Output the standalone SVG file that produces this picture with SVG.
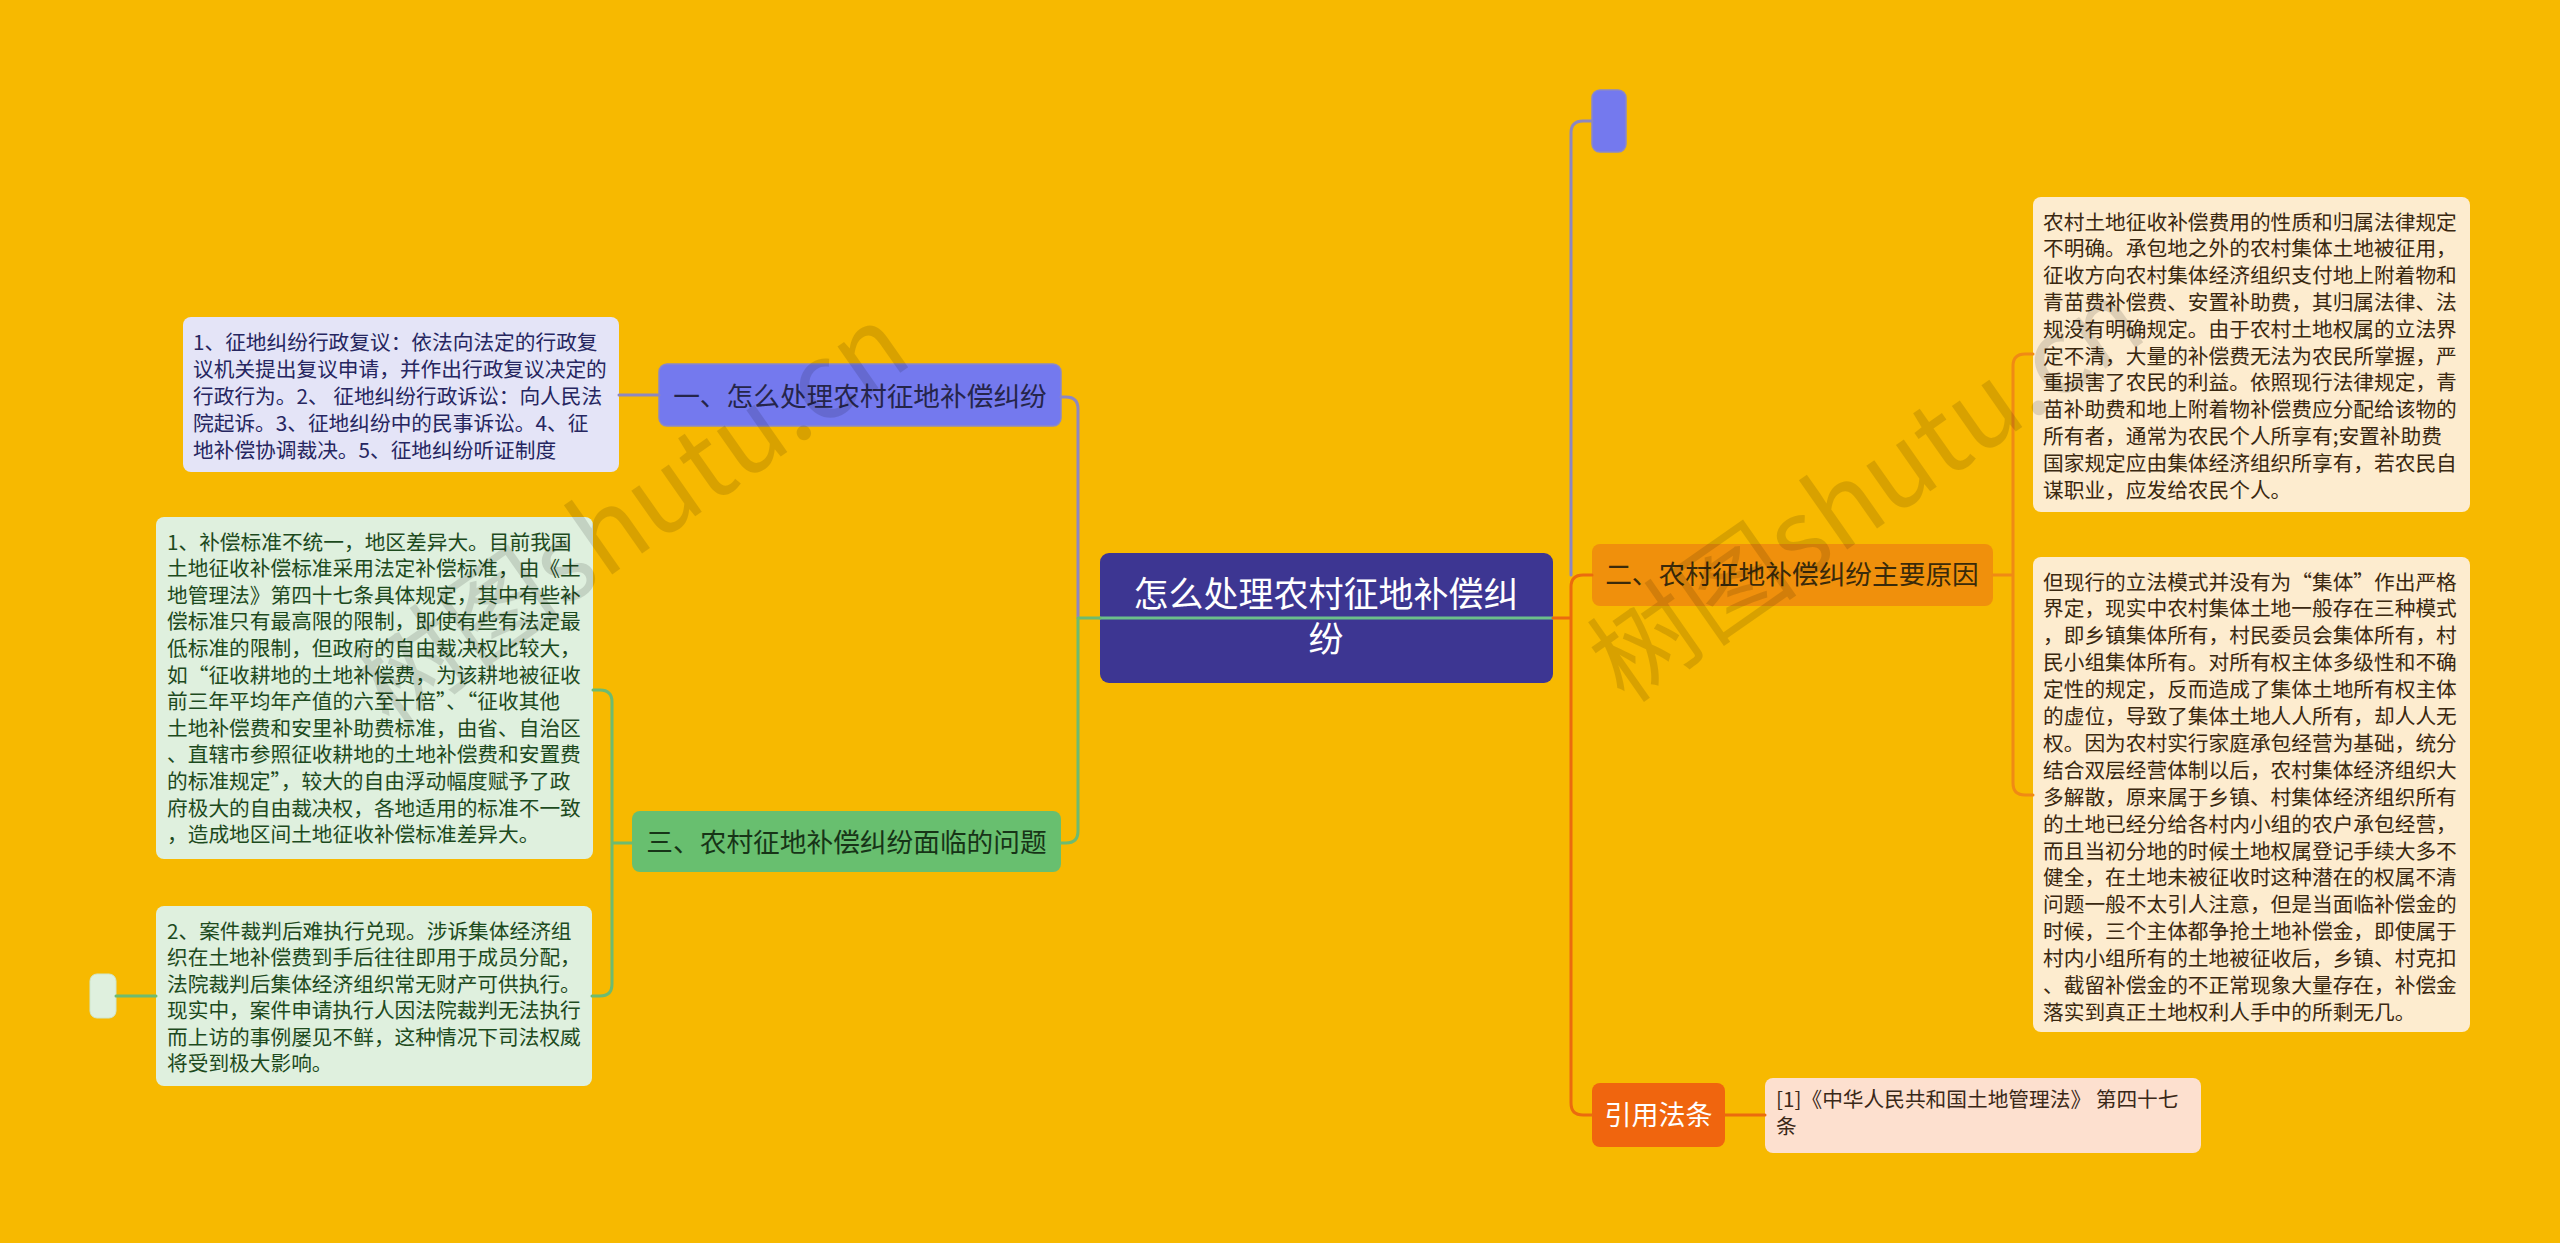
<svg xmlns="http://www.w3.org/2000/svg" width="2560" height="1243" viewBox="0 0 2560 1243">
<style>
text{font-family:"Noto Sans CJK SC","Noto Sans",sans-serif;}
.leaf{font-size:20.7px;}
.main{font-size:26.7px;}
.c{fill:none;stroke-width:3;stroke-linecap:round;stroke-linejoin:round;}
.pur{stroke:#8d87c0;}
.grn{stroke:#6dbb70;}
.org{stroke:#eb6b0e;}
.org2{stroke:#f08a14;}
.wm{font-size:106px;fill:#000;opacity:0.12;}
</style>
<rect x="0" y="0" width="2560" height="1243" fill="#f7b900"/>

<g id="center">
<rect x="1100" y="553" width="453" height="130" rx="9" fill="#3d3692"/>
<text x="1326" y="607" font-size="35" fill="#ffffff" text-anchor="middle">怎么处理农村征地补偿纠</text>
<text x="1326" y="652" font-size="35" fill="#ffffff" text-anchor="middle">纷</text>
</g>

<g id="n1">
<rect x="659" y="364" width="402" height="62" rx="8" fill="#7479ee" stroke="#8a88c8" stroke-width="1.5"/>
<text class="main" x="860" y="406" fill="#25254a" text-anchor="middle">一、怎么处理农村征地补偿纠纷</text>
</g>
<g id="n1a">
<rect x="183" y="317" width="436" height="155" rx="8" fill="#e4e4f7"/>
<text class="leaf" fill="#262660">
<tspan x="193" y="349.5">1、征地纠纷行政复议：依法向法定的行政复</tspan>
<tspan x="193" y="376.5">议机关提出复议申请，并作出行政复议决定的</tspan>
<tspan x="193" y="403.5">行政行为。2、 征地纠纷行政诉讼：向人民法</tspan>
<tspan x="193" y="430.5">院起诉。3、征地纠纷中的民事诉讼。4、征</tspan>
<tspan x="193" y="457.5">地补偿协调裁决。5、征地纠纷听证制度</tspan>
</text>
</g>

<g id="n3">
<rect x="632" y="811" width="429" height="61" rx="8" fill="#68bf6f"/>
<text class="main" x="846.5" y="852" fill="#173417" text-anchor="middle">三、农村征地补偿纠纷面临的问题</text>
</g>
<g id="n3a">
<rect x="156" y="517" width="437" height="342" rx="8" fill="#dff0de"/>
<text class="leaf" fill="#1d4a1d">
<tspan x="167" y="549.5">1、补偿标准不统一，地区差异大。目前我国</tspan>
<tspan x="167" y="576.1">土地征收补偿标准采用法定补偿标准，由《土</tspan>
<tspan x="167" y="602.7">地管理法》第四十七条具体规定，其中有些补</tspan>
<tspan x="167" y="629.3">偿标准只有最高限的限制，即使有些有法定最</tspan>
<tspan x="167" y="655.9">低标准的限制，但政府的自由裁决权比较大，</tspan>
<tspan x="167" y="682.5">如“征收耕地的土地补偿费，为该耕地被征收</tspan>
<tspan x="167" y="709.1">前三年平均年产值的六至十倍”、“征收其他</tspan>
<tspan x="167" y="735.7">土地补偿费和安里补助费标准，由省、自治区</tspan>
<tspan x="167" y="762.3">、直辖市参照征收耕地的土地补偿费和安置费</tspan>
<tspan x="167" y="788.9">的标准规定”，较大的自由浮动幅度赋予了政</tspan>
<tspan x="167" y="815.5">府极大的自由裁决权，各地适用的标准不一致</tspan>
<tspan x="167" y="842.1">，造成地区间土地征收补偿标准差异大。</tspan>
</text>
</g>
<g id="n3b">
<rect x="156" y="906" width="436" height="180" rx="8" fill="#dff0de"/>
<text class="leaf" fill="#1d4a1d">
<tspan x="167" y="938.5">2、案件裁判后难执行兑现。涉诉集体经济组</tspan>
<tspan x="167" y="965">织在土地补偿费到手后往往即用于成员分配，</tspan>
<tspan x="167" y="991.5">法院裁判后集体经济组织常无财产可供执行。</tspan>
<tspan x="167" y="1018">现实中，案件申请执行人因法院裁判无法执行</tspan>
<tspan x="167" y="1044.5">而上访的事例屡见不鲜，这种情况下司法权威</tspan>
<tspan x="167" y="1071">将受到极大影响。</tspan>
</text>
</g>
<g id="n3b1">
<rect x="90" y="974" width="26" height="44" rx="7" fill="#dff0de" stroke="#cfe6cc" stroke-width="1"/>
</g>

<g id="n0">
<rect x="1592" y="90" width="34" height="62" rx="8" fill="#7479ee" stroke="#8a88c8" stroke-width="1.5"/>
</g>

<g id="n2">
<rect x="1592" y="544" width="401" height="62" rx="8" fill="#f0900c"/>
<text class="main" x="1792" y="584" fill="#3a2a0a" text-anchor="middle">二、农村征地补偿纠纷主要原因</text>
</g>
<g id="n2a">
<rect x="2033" y="197" width="437" height="315" rx="8" fill="#fdeccf"/>
<text class="leaf" fill="#3a2810">
<tspan x="2043" y="229.5">农村土地征收补偿费用的性质和归属法律规定</tspan>
<tspan x="2043" y="256.3">不明确。承包地之外的农村集体土地被征用，</tspan>
<tspan x="2043" y="283.1">征收方向农村集体经济组织支付地上附着物和</tspan>
<tspan x="2043" y="309.9">青苗费补偿费、安置补助费，其归属法律、法</tspan>
<tspan x="2043" y="336.7">规没有明确规定。由于农村土地权属的立法界</tspan>
<tspan x="2043" y="363.5">定不清，大量的补偿费无法为农民所掌握，严</tspan>
<tspan x="2043" y="390.3">重损害了农民的利益。依照现行法律规定，青</tspan>
<tspan x="2043" y="417.1">苗补助费和地上附着物补偿费应分配给该物的</tspan>
<tspan x="2043" y="443.9">所有者，通常为农民个人所享有;安置补助费</tspan>
<tspan x="2043" y="470.7">国家规定应由集体经济组织所享有，若农民自</tspan>
<tspan x="2043" y="497.5">谋职业，应发给农民个人。</tspan>
</text>
</g>
<g id="n2b">
<rect x="2033" y="557" width="437" height="475" rx="8" fill="#fdeccf"/>
<text class="leaf" fill="#3a2810">
<tspan x="2043" y="589.5">但现行的立法模式并没有为“集体”作出严格</tspan>
<tspan x="2043" y="616.4">界定，现实中农村集体土地一般存在三种模式</tspan>
<tspan x="2043" y="643.3">，即乡镇集体所有，村民委员会集体所有，村</tspan>
<tspan x="2043" y="670.2">民小组集体所有。对所有权主体多级性和不确</tspan>
<tspan x="2043" y="697.1">定性的规定，反而造成了集体土地所有权主体</tspan>
<tspan x="2043" y="724">的虚位，导致了集体土地人人所有，却人人无</tspan>
<tspan x="2043" y="750.9">权。因为农村实行家庭承包经营为基础，统分</tspan>
<tspan x="2043" y="777.8">结合双层经营体制以后，农村集体经济组织大</tspan>
<tspan x="2043" y="804.7">多解散，原来属于乡镇、村集体经济组织所有</tspan>
<tspan x="2043" y="831.6">的土地已经分给各村内小组的农户承包经营，</tspan>
<tspan x="2043" y="858.5">而且当初分地的时候土地权属登记手续大多不</tspan>
<tspan x="2043" y="885.4">健全，在土地未被征收时这种潜在的权属不清</tspan>
<tspan x="2043" y="912.3">问题一般不太引人注意，但是当面临补偿金的</tspan>
<tspan x="2043" y="939.2">时候，三个主体都争抢土地补偿金，即使属于</tspan>
<tspan x="2043" y="966.1">村内小组所有的土地被征收后，乡镇、村克扣</tspan>
<tspan x="2043" y="993">、截留补偿金的不正常现象大量存在，补偿金</tspan>
<tspan x="2043" y="1019.9">落实到真正土地权利人手中的所剩无几。</tspan>
</text>
</g>

<g id="n4">
<rect x="1592" y="1083" width="133" height="64" rx="8" fill="#f0650e"/>
<text x="1658.5" y="1125" font-size="27" fill="#ffffff" text-anchor="middle">引用法条</text>
</g>
<g id="n4a">
<rect x="1765" y="1078" width="436" height="75" rx="8" fill="#fde0cf"/>
<text class="leaf" fill="#3a2818">
<tspan x="1776" y="1107">[1]《中华人民共和国土地管理法》 第四十七</tspan>
<tspan x="1776" y="1134">条</tspan>
</text>
</g>

<g id="connectors">
<path class="c" d="M1100,618 H1553" stroke="#6cbf8a" stroke-width="3" fill="none"/>
<path class="c pur" d="M1078,618 V409 Q1078,397 1066,397 H1061"/>
<path class="c grn" d="M1078,618 H1100 M1078,618 V831 Q1078,843 1066,843 H1061"/>
<path class="c pur" d="M659,395 H619"/>
<path class="c grn" d="M632,843 H612 M593,690 H600 Q612,690 612,702 V984 Q612,996 600,996 H592"/>
<path class="c grn" d="M156,996 H116"/>
<path class="c pur" d="M1571,575 V133 Q1571,121 1583,121 H1592"/>
<path class="c org" d="M1553,618 H1571 M1592,575 H1583 Q1571,575 1571,587 V1103 Q1571,1115 1583,1115 H1592"/>
<path class="c org2" d="M1993,575 H2013 M2033,354 H2025 Q2013,354 2013,366 V783 Q2013,795 2025,795 H2033"/>
<path class="c org" d="M1725,1115 H1765"/>
</g>

<g id="watermark">
<text class="wm" transform="translate(390,730) rotate(-35)">树图shutu.cn</text>
<text class="wm" transform="translate(1625,705) rotate(-35)">树图shutu.cn</text>
</g>
</svg>
